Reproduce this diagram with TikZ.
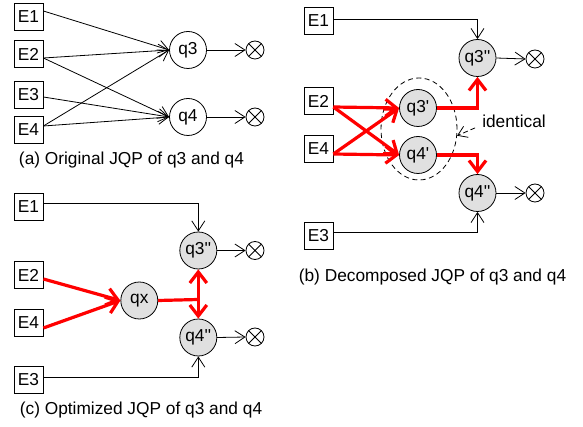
\documentclass[tikz,border=0pt]{standalone}
\usepackage{fontspec}
\setmainfont{Liberation Sans}
\usetikzlibrary{arrows.meta,shapes.geometric,calc}
\definecolor{qgray}{RGB}{224,224,224}
\definecolor{lnred}{RGB}{255,0,0}
\begin{document}
\begin{tikzpicture}[x=1pt,y=-1pt,
  font=\fontsize{17.3}{20}\selectfont,
  ebox/.style={draw=black, line width=0.8pt, fill=white, minimum width=29pt, minimum height=27pt, inner sep=0pt},
  qn/.style={circle, draw=black, line width=0.8pt, fill=white, minimum size=37pt, inner sep=0pt},
  qg/.style={qn, fill=qgray},
  outn/.style={circle, draw=black, line width=0.8pt, fill=white, minimum size=18pt, inner sep=0pt,
    path picture={\draw[line width=0.8pt] (path picture bounding box.north west) -- (path picture bounding box.south east)
      (path picture bounding box.north east) -- (path picture bounding box.south west);}},
  thinarrow/.style={draw=black, line width=0.8pt, -{Straight Barb[length=10pt,width=13pt]}},
  redarrow/.style={draw=lnred, line width=3.2pt, -{Straight Barb[length=11pt,width=17pt]}},
  redline/.style={draw=lnred, line width=3.2pt},
  captext/.style={inner sep=0pt, anchor=center},
]
\useasboundingbox (0,0) rectangle (583,427);

% ---------- (a) ----------
\node[ebox] (a1) at (28.5,17) {E1};
\node[ebox] (a2) at (28.5,54) {E2};
\node[ebox] (a3) at (28.5,95) {E3};
\node[ebox] (a4) at (28.5,130) {E4};
\node[qn] (aq3) at (188,50) {q3};
\node[qn] (aq4) at (188,117) {q4};
\node[outn] (ao3) at (255,50) {};
\node[outn] (ao4) at (255,117) {};
\draw[thinarrow] ([yshift=6pt]a1.east) -- (aq3.west);
\draw[thinarrow] ([yshift=-4pt]a2.east) -- (aq3.west);
\draw[thinarrow] ([yshift=-4pt]a2.east) -- (aq4.west);
\draw[thinarrow] ([yshift=-2pt]a3.east) -- (aq4.west);
\draw[thinarrow] ([yshift=4pt]a4.east) -- (aq3.west);
\draw[thinarrow] ([yshift=4pt]a4.east) -- (aq4.west);
\draw[thinarrow] (aq3.east) -- (ao3.west);
\draw[thinarrow] (aq4.east) -- (ao4.west);
\node[captext] (capa) at (131.5,160) {(a) Original JQP of q3 and q4};

% ---------- (b) ----------
\node[ellipse, draw=black, line width=0.8pt, dash pattern=on 5pt off 3.5pt, minimum width=76pt, minimum height=102pt, inner sep=0pt] (grp) at (419,129) {};
\node[ebox] (b1) at (318.5,21) {E1};
\node[ebox] (b2) at (318.5,101) {E2};
\node[ebox] (b4) at (318.5,149) {E4};
\node[ebox] (b3) at (318.5,236) {E3};
\node[qg] (bq3p) at (418,108) {q3\textquotesingle};
\node[qg] (bq4p) at (418,155) {q4\textquotesingle};
\node[qg] (bq3) at (477.5,58) {q3\textquotesingle\textquotesingle};
\node[qg] (bq4) at (477.5,193) {q4\textquotesingle\textquotesingle};
\node[outn] (bo3) at (535,59) {};
\node[outn] (bo4) at (535,193) {};
\draw[thinarrow] ([yshift=2pt]b1.east) -| (bq3.north);
\draw[thinarrow] ([yshift=4pt]b3.east) -| (bq4.south);
\draw[thinarrow] (bq3.east) -- (bo3.west);
\draw[thinarrow] (bq4.east) -- (bo4.west);
\draw[redarrow] ([yshift=-6pt]b2.east) -- (bq3p.west);
\draw[redarrow] ([yshift=-6pt]b2.east) -- (bq4p.west);
\draw[redarrow] ([yshift=-5pt]b4.east) -- (bq3p.west);
\draw[redarrow] ([yshift=-5pt]b4.east) -- (bq4p.west);
\draw[redarrow] (bq3p.east) -| (bq3.south);
\draw[redarrow] (bq4p.east) -| (bq4.north);
\node[inner sep=0pt] (ident) at (514,121.7) {identical};
\draw[draw=black, line width=0.8pt, dash pattern=on 5pt off 3pt, -{Straight Barb[length=9pt,width=12pt]}] ([xshift=-7pt]ident.base west) -- (grp.-10);
\node[captext] (capb) at (432.5,277) {(b) Decomposed JQP of q3 and q4};

% ---------- (c) ----------
\node[ebox] (c1) at (28.5,207) {E1};
\node[ebox] (c2) at (28.5,275) {E2};
\node[ebox] (c4) at (28.5,323) {E4};
\node[ebox] (c3) at (28.5,380) {E3};
\node[qg] (cqx) at (139.3,300.5) {qx};
\node[qg] (cq3) at (198.3,250.5) {q3\textquotesingle\textquotesingle};
\node[qg] (cq4) at (198.3,337.5) {q4\textquotesingle\textquotesingle};
\node[outn] (co3) at (255,250.5) {};
\node[outn] (co4) at (255,337) {};
\coordinate (cj) at (198.3,299.5);
\draw[thinarrow] ([yshift=4pt]c1.east) -| (cq3.north);
\draw[thinarrow] ([yshift=3pt]c3.east) -| (cq4.south);
\draw[thinarrow] (cq3.east) -- (co3.west);
\draw[thinarrow] (cq4.east) -- (co4.west);
\draw[redarrow] ([yshift=-4pt]c2.east) -- (cqx.west);
\draw[redarrow] ([yshift=-5pt]c4.east) -- (cqx.west);
\draw[redline] (cqx.east) -- (cj);
\draw[redarrow, {Straight Barb[length=11pt,width=17pt]}-{Straight Barb[length=11pt,width=17pt]}] (cq3.south) -- (cq4.north);
\node[captext] (capc) at (141,410) {(c) Optimized JQP of q3 and q4};
\end{tikzpicture}
\end{document}
